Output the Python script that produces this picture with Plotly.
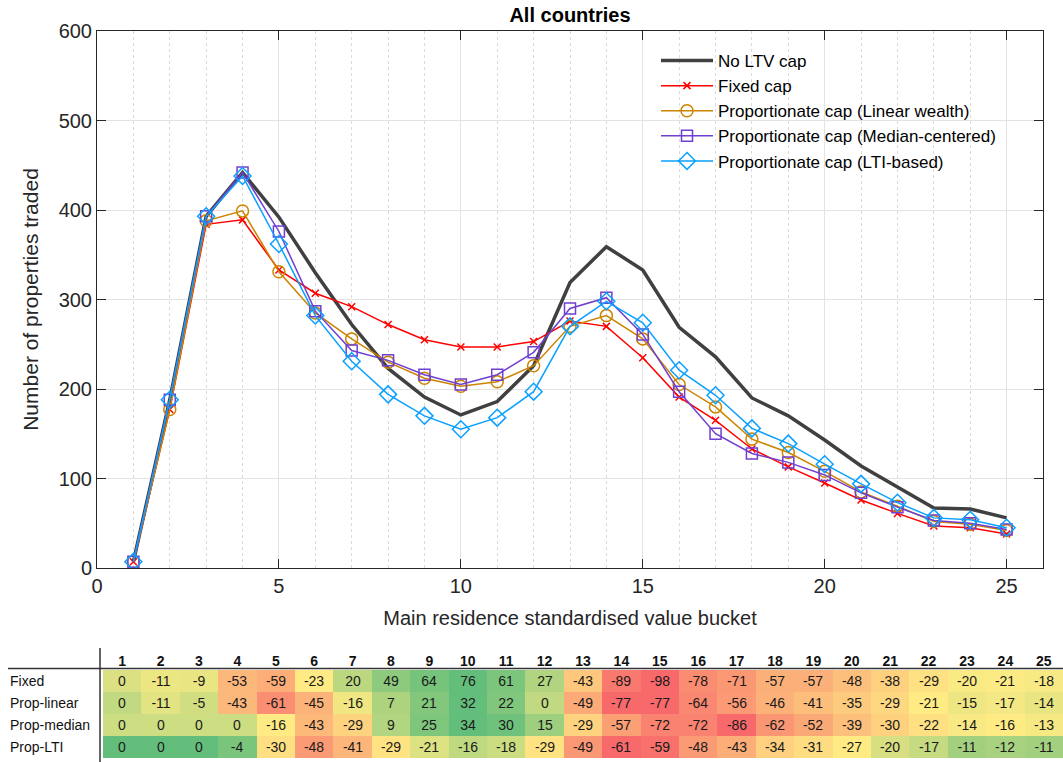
import plotly.graph_objects as go
import numpy as np

W, H = 1063, 762

buckets = list(range(1, 26))
no_ltv = [7, 188, 393, 442, 392, 330, 272, 223, 191, 171, 186, 226, 319, 359, 333,
          269, 236, 190, 170, 143, 114, 90, 67, 66, 56]
fixed_cap = [7, 177, 384, 389, 333, 307, 292, 272, 255, 247, 247, 253, 276, 270, 235,
             191, 165, 133, 113, 95, 76, 61, 47, 45, 38]
prop_linear = [7, 177, 388, 399, 331, 285, 256, 230, 212, 203, 208, 226, 270, 282, 256,
               205, 180, 144, 129, 108, 85, 69, 52, 49, 42]
prop_median = [7, 188, 393, 442, 376, 287, 243, 232, 216, 205, 216, 241, 290, 302, 261,
               197, 150, 128, 118, 104, 84, 68, 53, 50, 43]
prop_lti = [7, 188, 393, 438, 362, 282, 231, 194, 170, 155, 168, 197, 270, 298, 274,
            221, 193, 156, 139, 116, 94, 73, 56, 54, 45]

row_labels = ["Fixed", "Prop-linear", "Prop-median", "Prop-LTI"]
diff_fixed = [0, -11, -9, -53, -59, -23, 20, 49, 64, 76, 61, 27, -43, -89, -98,
              -78, -71, -57, -57, -48, -38, -29, -20, -21, -18]
diff_linear = [0, -11, -5, -43, -61, -45, -16, 7, 21, 32, 22, 0, -49, -77, -77,
               -64, -56, -46, -41, -35, -29, -21, -15, -17, -14]
diff_median = [0, 0, 0, 0, -16, -43, -29, 9, 25, 34, 30, 15, -29, -57, -72,
               -72, -86, -62, -52, -39, -30, -22, -14, -16, -13]
diff_lti = [0, 0, 0, -4, -30, -48, -41, -29, -21, -16, -18, -29, -49, -61, -59,
            -48, -43, -34, -31, -27, -20, -17, -11, -12, -11]
diff_rows = [diff_fixed, diff_linear, diff_median, diff_lti]

FONT = "Liberation Sans, Arial, Helvetica, sans-serif"
TXT = "#262626"

def px_x(p):
    return p / W

def px_y(p):
    return 1 - p / H

fig = go.Figure()

series = [
    ("No LTV cap", no_ltv, "#404040", 3.5, None, 0),
    ("Fixed cap", fixed_cap, "#FF0000", 1.5, "x-thin-open", 7),
    ("Proportionate cap (Linear wealth)", prop_linear, "#CC8400", 1.5, "circle-open", 12),
    ("Proportionate cap (Median-centered)", prop_median, "#7040D0", 1.5, "square-open", 11),
    ("Proportionate cap (LTI-based)", prop_lti, "#0AA0FF", 1.5, "diamond-open", 13),
]
for name, vals, col, lw, sym, ms in series:
    if sym is None:
        fig.add_trace(go.Scatter(x=buckets, y=vals, name=name, mode="lines",
                                 line=dict(color=col, width=lw),
                                 xaxis="x", yaxis="y"))
    else:
        fig.add_trace(go.Scatter(x=buckets, y=vals, name=name, mode="lines+markers",
                                 line=dict(color=col, width=lw),
                                 marker=dict(symbol=sym, size=ms, color=col,
                                             line=dict(color=col, width=1.5)),
                                 xaxis="x", yaxis="y"))

# per-row colour scale: red at min, yellow at median, green at max
z = []
for row in diff_rows:
    a = np.array(row, dtype=float)
    mn, md, mx = a.min(), np.median(a), a.max()
    t = np.where(a <= md,
                 0.5 * (a - mn) / (md - mn if md != mn else 1),
                 0.5 + 0.5 * (a - md) / (mx - md if mx != md else 1))
    z.append(t.tolist())

fig.add_trace(go.Heatmap(
    x=buckets, y=[0, 1, 2, 3], z=z,
    text=[[str(v) for v in row] for row in diff_rows],
    texttemplate="%{text}",
    textfont=dict(family=FONT, size=14, color="#1a1a1a"),
    colorscale=[[0, "rgb(248,105,107)"], [0.5, "rgb(255,235,132)"], [1, "rgb(99,190,123)"]],
    zmin=0, zmax=1, showscale=False, xaxis="x2", yaxis="y2", hoverinfo="skip"))

x_dom = [px_x(97), px_x(1043)]
y_dom = [px_y(568), px_y(31)]

annotations = []
row_h = 22
for i, lab in enumerate(row_labels):
    yc = 670 + row_h * i + row_h / 2
    annotations.append(dict(text=lab, x=px_x(8), y=px_y(yc), xref="paper", yref="paper",
                            xanchor="left", yanchor="middle", showarrow=False,
                            font=dict(family=FONT, size=14, color="#111")))

fig.update_layout(
    width=W, height=H,
    margin=dict(l=0, r=0, t=0, b=0, autoexpand=False),
    paper_bgcolor="white", plot_bgcolor="white",
    font=dict(family=FONT, color=TXT),
    title=dict(text="<b>All countries</b>", x=px_x(570), y=px_y(15),
               xanchor="center", yanchor="middle",
               font=dict(family=FONT, size=20, color="#000")),
    showlegend=True,
    legend=dict(x=px_x(656), y=px_y(43), xanchor="left", yanchor="top",
                bgcolor="rgba(0,0,0,0)", borderwidth=0,
                font=dict(family=FONT, size=17, color="#000"),
                itemwidth=52, tracegroupgap=0),
    xaxis=dict(domain=x_dom, range=[0, 26], anchor="y", automargin=False,
               tickmode="array", tickvals=[0, 5, 10, 15, 20, 25],
               ticks="inside", ticklen=9, tickcolor="#262626",
               showline=True, linecolor="#262626", linewidth=1, mirror="ticks",
               showgrid=True, gridcolor="#E3E3E3", gridwidth=1,
               minor=dict(dtick=1, tick0=0, showgrid=True, gridcolor="#DADADA",
                          griddash="dot", gridwidth=1, ticks=""),
               zeroline=False,
               tickfont=dict(family=FONT, size=20, color=TXT),
               title=dict(text="Main residence standardised value bucket",
                          font=dict(family=FONT, size=20, color=TXT), standoff=14)),
    yaxis=dict(domain=y_dom, range=[0, 600], anchor="x", automargin=False,
               tickmode="array", tickvals=[0, 100, 200, 300, 400, 500, 600],
               ticks="inside", ticklen=9, tickcolor="#262626",
               showline=True, linecolor="#262626", linewidth=1, mirror="ticks",
               showgrid=True, gridcolor="#E3E3E3", gridwidth=1,
               zeroline=False,
               tickfont=dict(family=FONT, size=20, color=TXT),
               title=dict(text="Number of properties traded",
                          font=dict(family=FONT, size=21, color=TXT), standoff=14)),
    xaxis2=dict(domain=[px_x(103), 1.0], range=[0.5, 25.5], anchor="y2", side="top",
                automargin=False,
                tickmode="array", tickvals=buckets,
                ticktext=["<b>%d</b>" % b for b in buckets],
                ticks="", showgrid=False, zeroline=False, showline=False,
                tickfont=dict(family=FONT, size=14, color="#111")),
    yaxis2=dict(domain=[px_y(758), px_y(670)], range=[3.5, -0.5], anchor="x2",
                automargin=False,
                showticklabels=False, ticks="", showgrid=False, zeroline=False),
    annotations=annotations,
    shapes=[
        dict(type="line", xref="paper", yref="paper", x0=px_x(8), x1=1.0,
             y0=px_y(668.5), y1=px_y(668.5), line=dict(color="#333", width=1.5)),
        dict(type="line", xref="paper", yref="paper", x0=px_x(100), x1=px_x(100),
             y0=px_y(648), y1=0, line=dict(color="#333", width=1.5)),
    ],
)

fig.write_html("out.html")
